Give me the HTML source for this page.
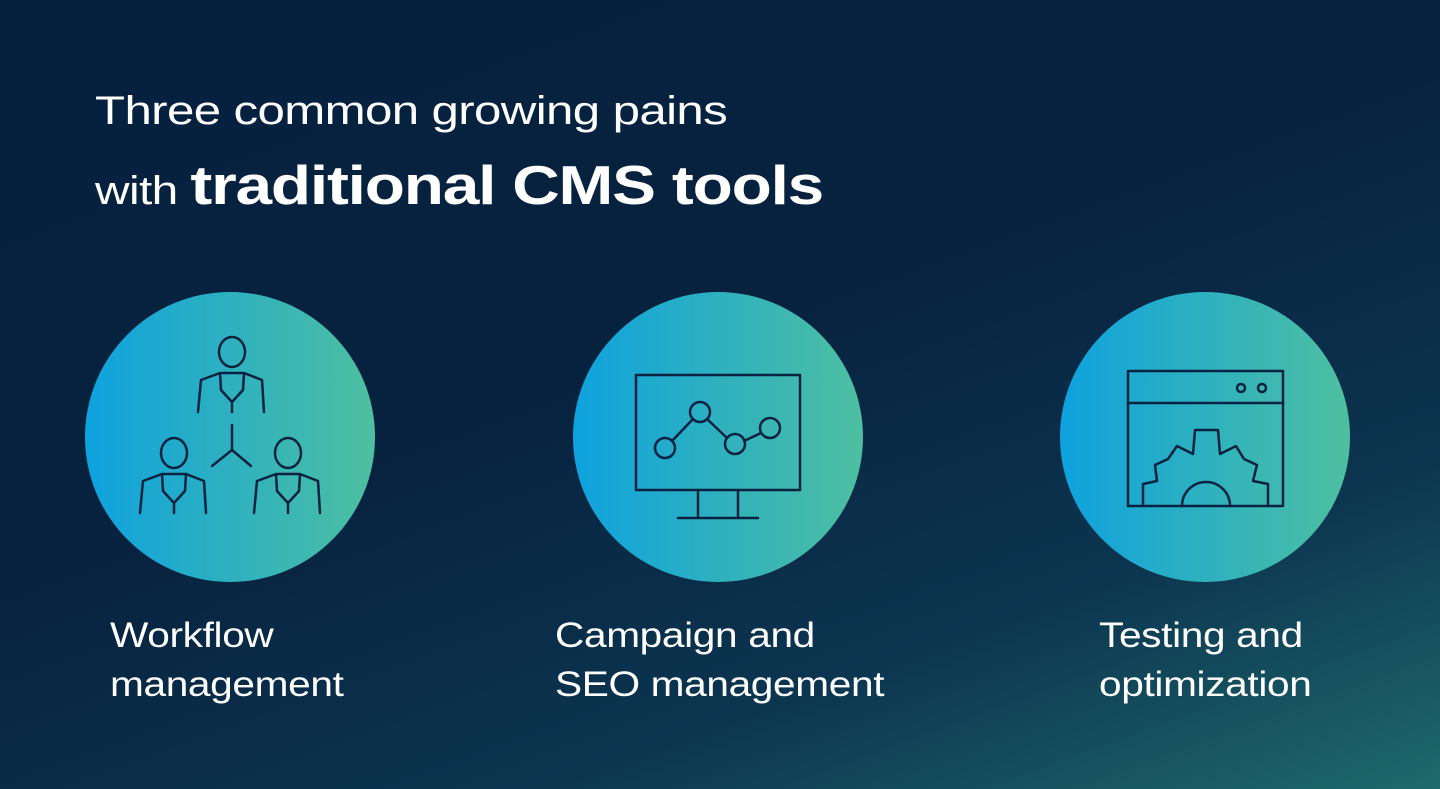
<!DOCTYPE html>
<html><head><style>
html,body{margin:0;padding:0}
body{width:1440px;height:789px;overflow:hidden;position:relative;font-family:"Liberation Sans",sans-serif;
background:linear-gradient(160deg,#06213f 0%,#07223f 45%,#0c3550 75%,#1e6a6c 100%);color:#fff}
.t{position:absolute;left:95px;white-space:nowrap;letter-spacing:-0.5px;transform-origin:left center}
.l{position:absolute;font-size:35px;line-height:49px;white-space:nowrap;letter-spacing:-0.3px;transform:scaleX(1.16);transform-origin:left center}
</style></head><body>
<div class="t" style="top:89px;font-size:40px;transform:scaleX(1.23)">Three common growing pains</div>
<div class="t" style="top:150px;font-size:40px;line-height:70px;transform:scaleX(1.196)">with <b style="font-size:55px;letter-spacing:-1px">traditional CMS tools</b></div>
<svg width="1440" height="789" style="position:absolute;left:0;top:0">
<defs><linearGradient id="g" x1="0" x2="1" y1="0" y2="0"><stop offset="0" stop-color="#0ea2de"/><stop offset="1" stop-color="#4ebfa0"/></linearGradient></defs>
<circle cx="230" cy="437" r="145" fill="url(#g)"/>
<circle cx="718" cy="437" r="145" fill="url(#g)"/>
<circle cx="1205" cy="437" r="145" fill="url(#g)"/>
<g fill="none" stroke="#0b2240" stroke-width="2.5" stroke-linecap="round" stroke-linejoin="round">
<g id="p"><ellipse cx="232" cy="352" rx="13" ry="15"/><path d="M198 412 L201 380 L220 373 L244 373 L262 380 L264 412 M220 373 L221 390 L232 402 L243 390 L244 373 M232 402 L232 412"/></g>
<use href="#p" transform="translate(-58,101)"/>
<use href="#p" transform="translate(56,101)"/>
<path d="M232 425 L232 450 L212 466 M232 450 L251 466"/>
<rect x="636" y="375" width="164" height="115"/>
<path d="M698 490 V517 M738 490 V517 M678 518 H758"/>
<circle cx="665" cy="448" r="10"/><circle cx="700" cy="412" r="10"/><circle cx="735" cy="444" r="10"/><circle cx="770" cy="428" r="10"/>
<path d="M672 441 L693 419 M707 419 L727 438 M744 441 L761 433"/>
<rect x="1128" y="371" width="155" height="135"/>
<path d="M1128 403 H1283"/>
<circle cx="1241" cy="388" r="4"/><circle cx="1262" cy="388" r="4"/>
<path d="M1143 506 L1143 484 L1157 481 L1155 465 L1168 459 L1177 446 L1193 454 L1195 430 L1218 430 L1220 454 L1236 446 L1244 459 L1257 465 L1253 481 L1268 484 L1268 506"/>
<path d="M1182 506 A23 23 0 1 1 1230 506"/>
</g>
</svg>
<div class="l" style="left:110px;top:611px">Workflow<br>management</div>
<div class="l" style="left:555px;top:611px">Campaign and<br>SEO management</div>
<div class="l" style="left:1099px;top:611px">Testing and<br>optimization</div>
</body></html>
